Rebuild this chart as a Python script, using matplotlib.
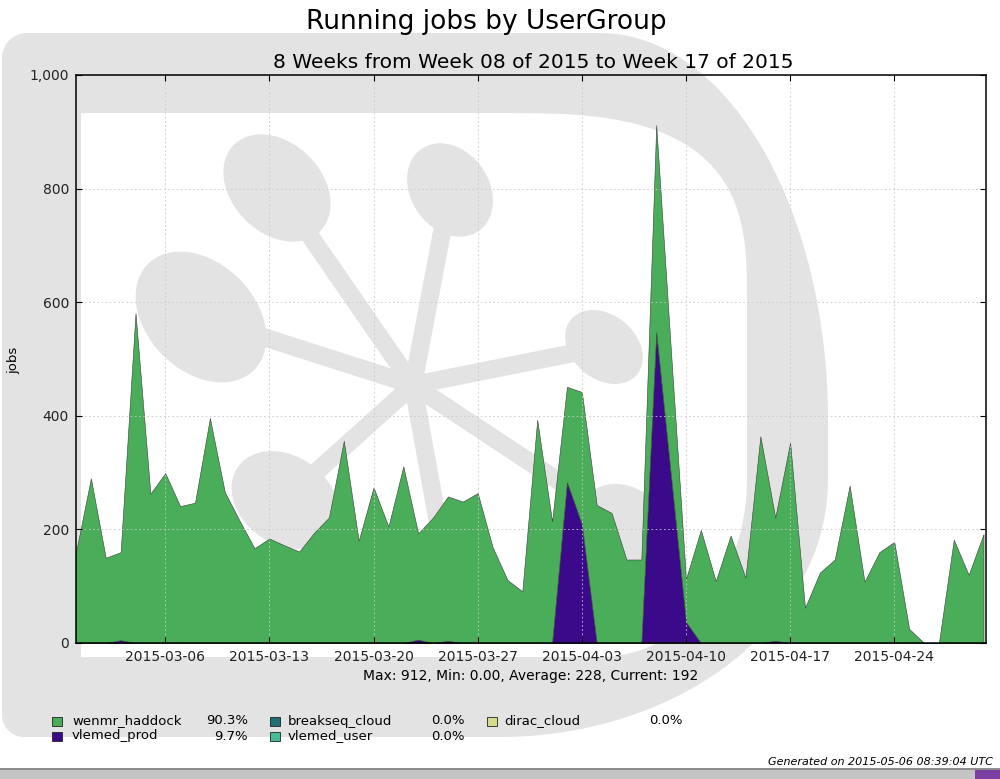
import numpy as np
import pandas as pd
import matplotlib
matplotlib.use("Agg")
import matplotlib.pyplot as plt
import matplotlib.dates as mdates
from matplotlib.patches import Ellipse, Rectangle, Polygon
from matplotlib.ticker import FuncFormatter, MultipleLocator

# ---------------- data ----------------
start_date = "2015-02-28"
n_days = 62
total_jobs = [160, 290, 150, 160, 581, 263, 299, 241, 247, 396, 266,
              215, 167, 184, 172, 161, 194, 221, 356, 180, 274,
              205, 311, 193, 221, 258, 249, 264, 169, 111, 91, 393,
              214, 451, 442, 243, 229, 147, 147, 912, 510, 113,
              199, 109, 189, 115, 364, 221, 353, 62, 124, 147,
              277, 108, 160, 178, 25, 0, 0, 182, 120, 192]
vlemed_prod = [0, 0, 0, 5, 0, 0, 0, 0, 0, 0, 0,
               0, 0, 0, 0, 0, 0, 0, 0, 0, 0,
               0, 0, 6, 0, 4, 0, 0, 0, 0, 0, 0,
               0, 283, 209, 0, 0, 0, 0, 547, 292, 37,
               0, 0, 0, 0, 0, 4, 0, 0, 0, 0,
               0, 0, 0, 0, 0, 0, 0, 0, 0, 0]
wenmr_haddock = [t - p for t, p in zip(total_jobs, vlemed_prod)]
breakseq_cloud = [0] * n_days
vlemed_user = [0] * n_days
dirac_cloud = [0] * n_days

legend_names = ["wenmr_haddock", "vlemed_prod", "breakseq_cloud", "vlemed_user", "dirac_cloud"]
legend_pcts = ["90.3%", "9.7%", "0.0%", "0.0%", "0.0%"]
colors = {"wenmr_haddock": "#49ad5a", "vlemed_prod": "#3a0a8a",
          "breakseq_cloud": "#1f6f74", "vlemed_user": "#45bb97",
          "dirac_cloud": "#d5db8b"}

title = "Running jobs by UserGroup"
subtitle = "8 Weeks from Week 08 of 2015 to Week 17 of 2015"
stats = "Max: 912, Min: 0.00, Average: 228, Current: 192"
generated = "Generated on 2015-05-06 08:39:04 UTC"

dates = pd.date_range(start_date, periods=n_days, freq="D")

# ---------------- figure ----------------
fig = plt.figure(figsize=(10, 7.79), dpi=100)
fig.patch.set_facecolor("white")

bg = fig.add_axes([0, 0, 1, 1], zorder=0)
bg.set_xlim(0, 1000)
bg.set_ylim(779, 0)
bg.axis("off")

GRAY = "#e3e3e3"


def corner(cx, cy, rx, ry, a0, a1, n=2.0, k=40):
    t = np.radians(np.linspace(a0, a1, k))
    c, s = np.cos(t), np.sin(t)
    x = cx + rx * np.sign(c) * np.abs(c) ** (2.0 / n)
    y = cy + ry * np.sign(s) * np.abs(s) ** (2.0 / n)
    return np.column_stack([x, y])


# outer "D"
outer = np.vstack([
    corner(27, 58, 25, 25, 180, 270),
    corner(600, 420, 228, 387, 270, 360),
    corner(500, 480, 328, 257, 0, 90),
    corner(24, 715, 22, 22, 90, 180),
])
bg.add_patch(Polygon(outer, closed=True, facecolor=GRAY, edgecolor="none", zorder=1))
inner = np.vstack([
    [[81, 113]],
    corner(500, 300, 247, 187, 270, 360, n=3.0),
    corner(600, 480, 147, 177, 0, 90),
    [[81, 657]],
])
bg.add_patch(Polygon(inner, closed=True, facecolor="white", edgecolor="none", zorder=2))

# star
cx0, cy0 = 413, 385
blobs = [((277, 188), 122, 90, 45), ((450, 190), 100, 78, 55),
         ((201, 317), 150, 108, 45), ((604, 347), 86, 64, 40),
         ((285, 500), 115, 88, 35), ((625, 525), 95, 75, 35)]
for (ex, ey), w, h, ang in blobs:
    bg.plot([cx0, ex], [cy0, ey], color=GRAY, lw=13, solid_capstyle="butt", zorder=3)
    bg.add_patch(Ellipse((ex, ey), w, h, angle=ang, facecolor=GRAY, edgecolor="none", zorder=3))
bg.plot([cx0, 452], [cy0, 600], color=GRAY, lw=13, solid_capstyle="butt", zorder=3)

# titles / texts
bg.text(486, 29, title, ha="center", va="baseline", fontsize=19, zorder=5)
bg.text(533, 68, subtitle, ha="center", va="baseline", fontsize=14.5, zorder=5)
bg.text(531, 680, stats, ha="center", va="baseline", fontsize=10, zorder=5)
bg.text(14, 360, "jobs", ha="center", va="center", rotation=90, fontsize=9.5, zorder=5)
bg.text(993, 765, generated, ha="right", va="baseline", fontsize=8, style="italic", zorder=5)

# legend
col_x = [(52, 72, 248), (270, 288, 465), (487, 504, 683)]
row_y = [721, 736]
for i, (name, pct) in enumerate(zip(legend_names, legend_pcts)):
    col, row = divmod(i, 2)
    sx, tx, px = col_x[col]
    y = row_y[row]
    bg.add_patch(Rectangle((sx, y - 4.5), 10, 9, facecolor=colors[name],
                           edgecolor="#222222", lw=0.6, zorder=5))
    bg.text(tx, y, name, ha="left", va="center", fontsize=9.5, zorder=5)
    bg.text(px, y, pct, ha="right", va="center", fontsize=9.5, zorder=5)

# bottom screenshot bar
bg.add_patch(Rectangle((0, 768), 1000, 11, facecolor="#c4c4c4", edgecolor="none", zorder=5))
bg.add_patch(Rectangle((0, 768), 1000, 2, facecolor="#8e8e8e", edgecolor="none", zorder=6))
bg.add_patch(Rectangle((975, 770), 25, 9, facecolor="#7b3ea3", edgecolor="none", zorder=6))

# ---------------- main axes ----------------
ax = fig.add_axes([0.076, 1 - 643 / 779, 0.910, (643 - 75) / 779], zorder=1)
ax.patch.set_alpha(0)

layers = [breakseq_cloud, vlemed_user, dirac_cloud, vlemed_prod, wenmr_haddock]
layer_cols = [colors["breakseq_cloud"], colors["vlemed_user"], colors["dirac_cloud"],
              colors["vlemed_prod"], colors["wenmr_haddock"]]
ax.stackplot(dates, *[np.array(l, dtype=float) for l in layers], colors=layer_cols,
             edgecolor="#3c3c3c", linewidth=0.4)

ax.set_xlim(dates[0], dates[-1] + pd.Timedelta(hours=4))
ax.set_ylim(0, 1000)
ax.yaxis.set_major_locator(MultipleLocator(200))
ax.yaxis.set_major_formatter(FuncFormatter(lambda v, p: f"{v:,.0f}"))
ax.xaxis.set_major_locator(mdates.WeekdayLocator(byweekday=mdates.FR))
ax.xaxis.set_major_formatter(mdates.DateFormatter("%Y-%m-%d"))

ax.grid(True, linestyle=(0, (2, 3)), color="#c8c8c8", linewidth=0.6)
ax.set_axisbelow(False)
ax.tick_params(direction="in", top=True, right=True, length=4, width=0.8,
               labelsize=10, pad=5, colors="black")
for lbl in ax.get_xticklabels() + ax.get_yticklabels():
    lbl.set_color("#222222")
for sp in ax.spines.values():
    sp.set_linewidth(1.1)
    sp.set_color("black")
    sp.set_zorder(10)

fig.savefig("out.png", dpi=100, facecolor="white")
